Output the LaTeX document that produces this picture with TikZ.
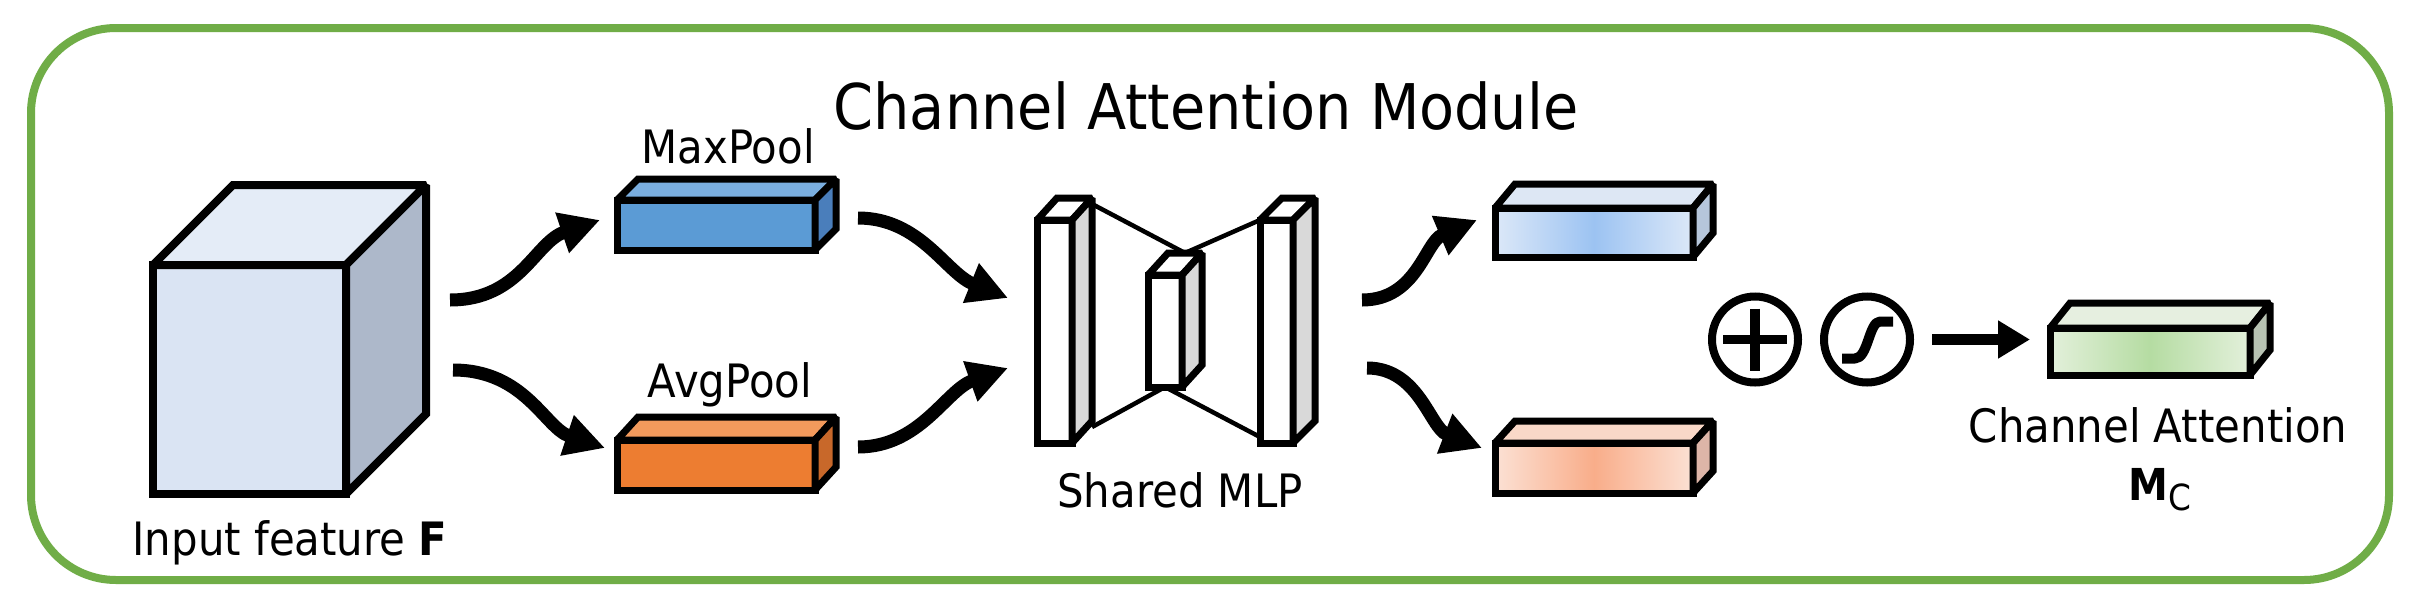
\documentclass[tikz,border=0pt]{standalone}
\usepackage{fontspec}
\setmainfont[FakeStretch=0.91]{DejaVu Sans}
\usetikzlibrary{arrows.meta,calc,backgrounds}
\definecolor{frameG}{HTML}{70AD47}
\definecolor{cubeFront}{HTML}{DAE4F3}
\definecolor{cubeTop}{HTML}{E4ECF7}
\definecolor{cubeSide}{HTML}{ADB8CA}
\definecolor{mpFront}{HTML}{5B9BD5}
\definecolor{mpTop}{HTML}{7AAEDF}
\definecolor{mpSide}{HTML}{4A7EBB}
\definecolor{apFront}{HTML}{ED7D31}
\definecolor{apTop}{HTML}{F39A5C}
\definecolor{apSide}{HTML}{C8682A}
\definecolor{oaEdge}{HTML}{DCE8F8}
\definecolor{oaMid}{HTML}{9CC3F2}
\definecolor{oaTop}{HTML}{DDE7F4}
\definecolor{oaSide}{HTML}{B6C6DB}
\definecolor{obEdge}{HTML}{FBE1D4}
\definecolor{obMid}{HTML}{F9AD8A}
\definecolor{obTop}{HTML}{F9D8C8}
\definecolor{obSide}{HTML}{DDB5A8}
\definecolor{ocEdge}{HTML}{E3F0DB}
\definecolor{ocMid}{HTML}{B5DCA2}
\definecolor{ocTop}{HTML}{E6EFE0}
\definecolor{ocSide}{HTML}{B8C3B3}
\definecolor{slabSide}{HTML}{D9D9D9}
\tikzset{
  face/.style={rectangle, draw=black, line width=7pt, line join=miter, miter limit=1.5, outer sep=0pt, inner sep=0pt},
  faceedge/.style={draw=black, line width=7pt, line join=miter, miter limit=1.5},
  flow/.style={line width=13pt, line cap=butt, -{Triangle[length=40pt,width=40pt]}},
  lbl/.style={anchor=base, inner sep=0pt, font=\fontsize{46}{50}\selectfont},
  opcircle/.style={circle, draw=black, line width=8pt, minimum size=86pt, inner sep=0pt, outer sep=0pt},
  mlpline/.style={line width=4.5pt},
}
% #1 name, #2 centre, #3 width, #4 height, #5 dx, #6 dy, #7 front style, #8 top colour, #9 side colour
\newcommand\cuboid[9]{%
  \node[face, minimum width=#3, minimum height=#4, #7] (#1) at #2 {};
  \draw[faceedge, fill=#8] (#1.north west) -- ++(#5,#6) -- ($(#1.north east)+(#5,#6)$) -- (#1.north east) -- cycle;
  \draw[faceedge, fill=#9] (#1.north east) -- ++(#5,#6) -- ($(#1.south east)+(#5,#6)$) -- (#1.south east) -- cycle;
}
\begin{document}
\begin{tikzpicture}[x=1pt, y=-1pt]
\useasboundingbox (0,0) rectangle (2411,608);
\begin{scope}[on background layer]
  \fill[white] (0,0) rectangle (2411,608);
\end{scope}
% frame
\draw[frameG, line width=8pt, rounded corners=85pt] (31,28) rectangle (2389,580);
% title
\node[anchor=base, inner sep=0pt, font=\fontsize{63}{70}\selectfont] (title) at (1206,129) {Channel Attention Module};

% input cube
\begin{scope}[face/.append style={line width=8pt}, faceedge/.append style={line width=8pt}]
\cuboid{cube}{(249.5,379.5)}{193pt}{229pt}{80}{-80}{fill=cubeFront}{cubeTop}{cubeSide}
\end{scope}
\node[lbl] (inlbl) at (290,555) {Input feature \textbf{F}};

% pooled vectors
\cuboid{mp}{(716,225)}{198pt}{50pt}{21}{-21}{fill=mpFront}{mpTop}{mpSide}
\cuboid{ap}{(716,465)}{198pt}{50pt}{21}{-23}{fill=apFront}{apTop}{apSide}
\node[lbl] (mplbl) at (728,163) {MaxPool};
\node[lbl] (aplbl) at (730,397) {AvgPool};

% shared MLP
\cuboid{sl}{(1054.5,331.5)}{35pt}{223pt}{20}{-22}{fill=white}{white}{slabSide}
\cuboid{sm}{(1165,331)}{34pt}{112pt}{20}{-22}{fill=white}{white}{slabSide}
\cuboid{sr}{(1276.5,331.5)}{33pt}{223pt}{22}{-22}{fill=white}{white}{slabSide}
\begin{scope}[on background layer]
  \coordinate (mtop) at ($(sm.north)+(20,-22)$);
  \draw[mlpline] ($(sl.north east)+(20,-16)$) -- (mtop) -- (sr.north west);
  \draw[mlpline] ($(sl.south east)+(20,-16)$) -- (sm.south) -- ($(sr.south west)+(0,-6)$);
\end{scope}
\node[lbl] (mlplbl) at (1180,507) {Shared MLP};

% MLP outputs
\cuboid{oa}{(1594,232.5)}{198pt}{49pt}{20}{-24}{left color=oaEdge, right color=oaEdge, middle color=oaMid}{oaTop}{oaSide}
\cuboid{ob}{(1594,468)}{198pt}{50pt}{20}{-22}{left color=obEdge, right color=obEdge, middle color=obMid}{obTop}{obSide}

% operators
\node[opcircle] (plus) at (1755,339.5) {};
\draw[line width=9.5pt] ($(plus.center)+(-32,0)$) -- ($(plus.center)+(32,0)$);
\draw[line width=9.5pt] ($(plus.center)+(0,-31)$) -- ($(plus.center)+(0,31)$);
\node[opcircle] (sig) at (1867,339.5) {};
\draw[line width=10pt, line join=round] ($(sig.center)+(-25,19)$) -- ++(13,0)
   .. controls +(13,0) and +(-11,0) .. ($(sig.center)+(13,-18)$) -- ++(13,0);

% channel attention output
\cuboid{mc}{(2150,351.5)}{200pt}{47pt}{20}{-25}{left color=ocEdge, right color=ocEdge, middle color=ocMid}{ocTop}{ocSide}
\node[lbl] (calbl) at (2158,442) {Channel Attention};
\node[anchor=base, inner sep=0pt] (mclbl) at (2160,500) {\fontsize{44}{50}\selectfont\textbf{M}\raisebox{-10pt}{\fontsize{36}{40}\selectfont C}};

% connectors
\coordinate (s1) at ($(cube.east)+(104,-79.5)$);
\coordinate (s2) at ($(cube.east)+(107,-9.5)$);
\draw[flow] (s1) .. controls +(70,0) and +(-65,22) .. ($(mp.west)+(-17,-5)$);
\draw[flow] (s2) .. controls +(72,0) and +(-60,-20) .. ($(ap.west)+(-12,-17)$);
\coordinate (s3) at ($(mp.east)+(43,-7)$);
\coordinate (s4) at ($(ap.east)+(43,-18)$);
\draw[flow] (s3) .. controls +(62,0) and +(-62,-25) .. ($(sl.west)+(-29,-33.5)$);
\draw[flow] (s4) .. controls +(62,0) and +(-62,22) .. ($(sl.west)+(-29,36.5)$);
\coordinate (s5) at ($(sr.east)+(69,-31.5)$);
\coordinate (s6) at ($(sr.east)+(74,36.5)$);
\draw[flow] (s5) .. controls +(55,0) and +(-52,22) .. ($(oa.west)+(-18,-12.5)$);
\draw[flow] (s6) .. controls +(52,0) and +(-52,-20) .. ($(ob.west)+(-13,-20)$);
\draw[line width=11pt, -{Triangle[length=32pt,width=36pt]}] ($(sig.east)+(22,0)$) -- ($(mc.west)+(-20,-12)$);
\end{tikzpicture}
\end{document}
